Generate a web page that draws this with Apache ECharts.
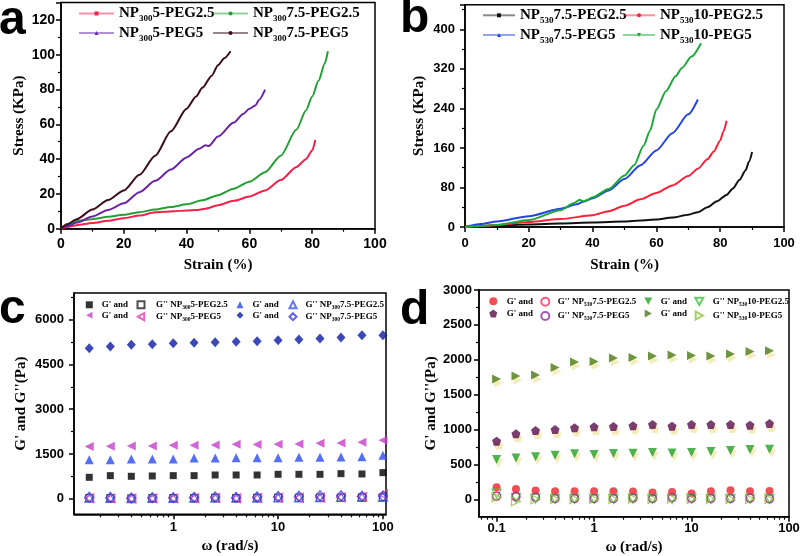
<!DOCTYPE html>
<html><head><meta charset="utf-8">
<script src="https://cdn.jsdelivr.net/npm/echarts@6/dist/echarts.min.js"></script>
<style>html,body{margin:0;padding:0;background:#fff}#c{width:801px;height:556px}</style>
</head><body><div id="c"></div>
<script>
const SANS = '"Liberation Sans", Arial, sans-serif';
const SERIF = '"Liberation Serif", "Times New Roman", serif';

// ---------- Panel a : stress-strain, NP300 ----------
const aStrainP5G25 = [0,2,5,10,15,20,25,30,33,36,40,43,46,50,55,60,65,70,75,78,80,81];
const aStressP5G25 = [0,1,2,3.3,4.5,6,7.6,9.4,9.8,10,10.5,10.7,11.5,13.5,16,18.5,22,28,35.5,40,45,51];
const aStrainP75G25 = [0,2,5,10,15,20,25,30,35,40,45,50,55,60,65,70,75,78,80,82,84,85];
const aStressP75G25 = [0,2.5,4.5,5.5,6.8,8,9.5,11,12.5,14,16.3,19.3,23,27,32.5,42,57,68,76,85,95,102];
const aStrainP5G5 = [0,2,5,10,15,20,25,30,35,40,44,46,47,50,55,58,60,62,63,65];
const aStressP5G5 = [0,1.5,3.5,7,10.8,14.6,21,27.5,34,41,46,48,47.5,53,61,66,69,71,74,80];
const aStrainP75G5 = [0,2,5,10,15,20,25,30,35,40,43,45,48,50,52,54];
const aStressP75G5 = [0,2.5,5.5,11,16.5,22,31,42,56,69,76,81,88,94,98,102];

// ---------- Panel b : stress-strain, NP530 ----------
const bStrainP75G25 = [0,5,10,20,30,40,50,55,60,65,70,73,76,79,82,84,86,88,89,90];
const bStressP75G25 = [0,2,3,5,7,9,11,13,15,19,25,30,40,52,65,78,95,115,132,152];
const bStrainP10G25 = [0,5,10,20,30,40,45,50,55,60,65,70,73,76,78,80,81,82];
const bStressP10G25 = [0,2,4,10,16,24,32,43,56,69,84,103,118,137,153,175,193,215];
const bStrainP75G5 = [0,5,10,20,30,35,37,40,45,50,55,60,65,70,73];
const bStressP75G5 = [0,6,11,22,37,46,51,58,74,97,125,155,190,228,258];
const bStrainP10G5 = [0,5,10,20,30,34,36,37,38,40,45,50,53,56,58,60,63,66,68,71,74];
const bStressP10G5 = [0,2,4,14,34,48,55,52,54,60,77,104,125,165,195,238,275,305,322,345,372];

// ---------- Panel c : G' / G'' vs omega, NP300 ----------
const cOmega = [0.158,0.251,0.398,0.631,1,1.58,2.51,3.98,6.31,10,15.8,25.1,39.8,63.1,100];
const cGpP5G25 = [716,772,750,761,772,772,794,794,794,817,817,817,839,828,873];
const cGppP5G25 = [20,15,10,15,15,20,25,20,25,30,30,35,35,40,45];
const cGpP75G25 = [1309,1309,1332,1332,1332,1365,1365,1376,1376,1376,1388,1388,1399,1410,1455];
const cGppP75G25 = [30,25,20,25,25,30,35,30,35,40,45,50,55,55,60];
const cGpP5G5 = [1746,1757,1768,1768,1790,1790,1802,1824,1813,1824,1835,1857,1869,1891,1958];
const cGppP5G5 = [15,10,5,10,10,15,20,15,20,30,30,40,50,60,140];
const cGpP75G5 = [5048,5104,5160,5182,5216,5227,5250,5261,5283,5317,5339,5373,5406,5485,5485];
const cGppP75G5 = [50,40,20,35,35,45,60,40,55,70,80,100,95,80,90];

// ---------- Panel d : G' / G'' vs omega, NP530 ----------
const dOmega = [0.1,0.158,0.251,0.398,0.631,1,1.58,2.51,3.98,6.31,10,15.8,25.1,39.8,63.1];
const dGpP75G25 = [172,148,124,115,115,115,115,110,96,105,81,115,129,115,120];
const dGppP75G25 = [40,30,25,10,10,10,10,15,10,20,10,10,10,15,10];
const dGpP10G25 = [569,593,608,632,651,641,656,660,670,665,670,684,699,713,718];
const dGppP10G25 = [80,20,10,5,5,5,5,5,5,0,5,5,5,5,5];
const dGpP75G5 = [833,938,986,1000,1024,1038,1043,1053,1072,1048,1072,1072,1072,1062,1086];
const dGppP75G5 = [50,45,30,10,10,10,10,20,10,25,15,10,10,15,5];
const dGpP10G5 = [1723,1766,1780,1890,1967,1976,2024,2034,2053,2067,2062,2053,2082,2120,2130];
const dGppP10G5 = [30,-30,0,5,5,5,5,10,5,10,5,5,5,5,5];

// tick values
const cYTicks = [0,1500,3000,4500,6000];
const cYMinor = [750,2250,3750,5250,6750];
const dYTicks = [0,500,1000,1500,2000,2500,3000];
const dYMinor = [250,750,1250,1750,2250,2750];
const cXMinor = [0.2,0.3,0.4,0.5,0.6,0.7,0.8,0.9,2,3,4,5,6,7,8,9,20,30,40,50,60,70,80,90];
const dXMinor = [0.07,0.08,0.09,0.2,0.3,0.4,0.5,0.6,0.7,0.8,0.9,2,3,4,5,6,7,8,9,20,30,40,50,60,70,80,90];

const zip = (xs, ys) => xs.map((x, i) => [x, ys[i]]);

const labelMap = {
  'a1': '{m|NP}{s|300}{m|5-PEG2.5}', 'a2': '{m|NP}{s|300}{m|7.5-PEG2.5}',
  'a3': '{m|NP}{s|300}{m|5-PEG5}', 'a4': '{m|NP}{s|300}{m|7.5-PEG5}',
  'b1': '{m|NP}{s|530}{m|7.5-PEG2.5}', 'b2': '{m|NP}{s|530}{m|10-PEG2.5}',
  'b3': '{m|NP}{s|530}{m|7.5-PEG5}', 'b4': '{m|NP}{s|530}{m|10-PEG5}',
  'c1': "{g| }{m|G' and}", 'c2': "{g| }{m|G'' NP}{s|300}{m|5-PEG2.5}",
  'c3': "{g| }{m|G' and}", 'c4': "{g| }{m|G'' NP}{s|300}{m|7.5-PEG2.5}",
  'c5': "{g| }{m|G' and}", 'c6': "{g| }{m|G'' NP}{s|300}{m|5-PEG5}",
  'c7': "{g| }{m|G' and}", 'c8': "{g| }{m|G'' NP}{s|300}{m|7.5-PEG5}",
  'd1': "{g| }{m|G' and}", 'd2': "{g| }{m|G'' NP}{s|530}{m|7.5-PEG2.5}",
  'd3': "{g| }{m|G' and}", 'd4': "{g| }{m|G'' NP}{s|530}{m|10-PEG2.5}",
  'd5': "{g| }{m|G' and}", 'd6': "{g| }{m|G'' NP}{s|530}{m|7.5-PEG5}",
  'd7': "{g| }{m|G' and}", 'd8': "{g| }{m|G'' NP}{s|530}{m|10-PEG5}"
};

const richBig = {
  m: {fontFamily: SERIF, fontWeight: 'bold', fontSize: 15, lineHeight: 20, color: '#000'},
  s: {fontFamily: SERIF, fontWeight: 'bold', fontSize: 9, lineHeight: 8, verticalAlign: 'bottom', color: '#000'}
};
function richSmall(gw) {
  return {
    g: {width: gw, fontSize: 9, lineHeight: 12},
    m: {fontFamily: SERIF, fontWeight: 'bold', fontSize: 9, lineHeight: 12, color: '#000'},
    s: {fontFamily: SERIF, fontWeight: 'bold', fontSize: 5.5, lineHeight: 5, verticalAlign: 'bottom', color: '#000'}
  };
}

function legend(names, left, top, iw, ih, gap, rich, lineLeg) {
  const o = {
    data: names, left: left, top: top, orient: 'vertical', padding: 0,
    itemWidth: iw, itemHeight: ih, itemGap: gap, selectedMode: false,
    formatter: n => labelMap[n], textStyle: {rich: rich}
  };
  if (lineLeg) o.lineStyle = {opacity: 0.5, width: 2};
  return o;
}

const plain = v => String(v);
const axLine = {show: true, onZero: false, lineStyle: {color: '#000', width: 1.5}};
const axTick = (len) => ({show: true, inside: false, length: len || 5, lineStyle: {color: '#000', width: 1.5}});
const minTick = {show: true, splitNumber: 2, length: 3, lineStyle: {color: '#000', width: 1.2}};
const lbl = (fs, margin, extra) => Object.assign({color: '#000', fontFamily: SANS, fontWeight: 'bold', fontSize: fs, margin: margin, formatter: plain}, extra || {});
const nameStyle = {fontFamily: SERIF, fontWeight: 'bold', fontSize: 15, color: '#000'};
const noSplit = {show: false};

function lineSeries(name, xs, ys, color, sym, xi) {
  return {
    type: 'line', name: name, data: zip(xs, ys), xAxisIndex: xi, yAxisIndex: xi,
    showSymbol: false, symbol: sym, symbolSize: 4, smooth: 0.25, smoothMonotone: 'x',
    lineStyle: {color: color, width: 2}, itemStyle: {color: color}, animation: false
  };
}
function scat(name, xs, ys, color, sym, size, open, ai, halo) {
  const s = {
    type: 'scatter', name: name, data: zip(xs, ys), xAxisIndex: ai, yAxisIndex: ai,
    symbol: sym, symbolSize: size, animation: false,
    itemStyle: open ? {color: 'rgba(255,255,255,0)', borderColor: color, borderWidth: 1.2}
                    : {color: color}
  };
  if (halo) Object.assign(s.itemStyle, {shadowColor: 'rgba(238,228,160,0.9)', shadowBlur: 1, shadowOffsetX: 2, shadowOffsetY: 4});
  return s;
}

const LTRI = 'path://M0,5L9,0L9,10Z';
const RTRI = 'path://M0,0L9,5L0,10Z';
const DTRI = 'path://M0,0L10,0L5,9Z';
const PENT = 'path://M5,0L10,3.8L8.1,10L1.9,10L0,3.8Z';

const option = {
  animation: false,
  backgroundColor: '#fff',
  grid: [
    {left: 61, top: 2.6, width: 314, height: 226.1, show: true, borderColor: '#000', borderWidth: 1.5, outerBoundsMode: 'none'},
    {left: 465, top: 4.7, width: 319, height: 222.3, show: true, borderColor: '#000', borderWidth: 1.5, outerBoundsMode: 'none'},
    {left: 74, top: 293, width: 312, height: 221.3, show: true, borderColor: '#000', borderWidth: 1.5, outerBoundsMode: 'none'},
    {left: 479, top: 290, width: 310, height: 226.7, show: true, borderColor: '#000', borderWidth: 1.5, outerBoundsMode: 'none'}
  ],
  xAxis: [
    {gridIndex: 0, type: 'value', min: 0, max: 100, interval: 20, position: 'bottom',
     axisLine: axLine, axisTick: axTick(5), minorTick: minTick, splitLine: noSplit, minorSplitLine: noSplit,
     axisLabel: lbl(14, 8), name: 'Strain (%)', nameLocation: 'middle', nameGap: 29, nameTextStyle: nameStyle},
    {gridIndex: 1, type: 'value', min: 0, max: 100, interval: 20, position: 'bottom',
     axisLine: axLine, axisTick: axTick(5), minorTick: minTick, splitLine: noSplit,
     axisLabel: lbl(13, 10), name: 'Strain (%)', nameLocation: 'middle', nameGap: 31, nameTextStyle: nameStyle},
    {gridIndex: 2, type: 'log', logBase: 10, min: 0.113, max: 107, position: 'bottom',
     axisLine: axLine, axisTick: axTick(5), splitLine: noSplit,
     axisLabel: lbl(13, 7, {showMinLabel: false, showMaxLabel: false}),
     name: 'ω (rad/s)', nameLocation: 'middle', nameGap: 24, nameTextStyle: nameStyle},
    {gridIndex: 2, type: 'value', min: Math.log10(0.113), max: Math.log10(107), position: 'bottom',
     axisLine: {show: false, onZero: false}, axisLabel: {show: false}, splitLine: noSplit,
     axisTick: {show: true, length: 3, customValues: cXMinor.map(v => Math.log10(v)), lineStyle: {color: '#000', width: 1.2}}},
    {gridIndex: 3, type: 'log', logBase: 10, min: 0.066, max: 100, position: 'bottom',
     axisLine: axLine, axisTick: axTick(5), splitLine: noSplit,
     axisLabel: lbl(13, 5, {showMinLabel: false}),
     name: 'ω (rad/s)', nameLocation: 'middle', nameGap: 23, nameTextStyle: nameStyle},
    {gridIndex: 3, type: 'value', min: Math.log10(0.066), max: 2, position: 'bottom',
     axisLine: {show: false, onZero: false}, axisLabel: {show: false}, splitLine: noSplit,
     axisTick: {show: true, length: 3, customValues: dXMinor.map(v => Math.log10(v)), lineStyle: {color: '#000', width: 1.2}}}
  ],
  yAxis: [
    {gridIndex: 0, type: 'value', min: 0, max: 130, interval: 20, position: 'left',
     axisLine: axLine, axisTick: axTick(5), minorTick: minTick, splitLine: noSplit,
     axisLabel: lbl(14, 6, {showMaxLabel: false}), name: 'Stress (KPa)', nameLocation: 'middle', nameGap: 34, nameTextStyle: nameStyle},
    {gridIndex: 1, type: 'value', min: 0, max: 450, interval: 80, position: 'left',
     axisLine: axLine, axisTick: axTick(5), minorTick: minTick, splitLine: noSplit,
     axisLabel: lbl(13, 10, {showMaxLabel: false}), name: 'Stress (KPa)', nameLocation: 'middle', nameGap: 38, nameTextStyle: nameStyle},
    {gridIndex: 2, type: 'value', min: -525, max: 6900, position: 'left',
     axisLine: axLine, axisTick: Object.assign(axTick(5), {customValues: cYTicks}), splitLine: noSplit,
     axisLabel: lbl(13, 10, {customValues: cYTicks}), name: "G' and G''(Pa)", nameLocation: 'middle', nameGap: 45, nameTextStyle: nameStyle},
    {gridIndex: 2, type: 'value', min: -525, max: 6900, position: 'left',
     axisLine: {show: false, onZero: false}, axisLabel: {show: false}, splitLine: noSplit,
     axisTick: {show: true, length: 3, customValues: cYMinor, lineStyle: {color: '#000', width: 1.2}}},
    {gridIndex: 3, type: 'value', min: -250, max: 3000, position: 'left',
     axisLine: axLine, axisTick: Object.assign(axTick(5), {customValues: dYTicks}), splitLine: noSplit,
     axisLabel: lbl(13, 7, {customValues: dYTicks}), name: "G' and G''(Pa)", nameLocation: 'middle', nameGap: 40, nameTextStyle: nameStyle},
    {gridIndex: 3, type: 'value', min: -250, max: 3000, position: 'left',
     axisLine: {show: false, onZero: false}, axisLabel: {show: false}, splitLine: noSplit,
     axisTick: {show: true, length: 3, customValues: dYMinor, lineStyle: {color: '#000', width: 1.2}}}
  ],
  legend: [
    legend(['a1', 'a3'], 78, 6, 35, 5, 2, richBig, true),
    legend(['a2', 'a4'], 212, 6, 35, 5, 2, richBig, true),
    legend(['b1', 'b3'], 482, 7.8, 32, 5, 2.2, richBig, true),
    legend(['b2', 'b4'], 622, 7.8, 32, 5, 2.2, richBig, true),
    legend(['c1', 'c5'], 85.8, 300.3, 7, 7, 1.4, richSmall(4)),
    legend(['c2', 'c6'], 136.5, 300.3, 7, 7, 1.4, richSmall(6.5)),
    legend(['c3', 'c7'], 236.5, 300.3, 7, 7, 1.4, richSmall(4)),
    legend(['c4', 'c8'], 288.5, 300.3, 7, 7, 1.4, richSmall(4)),
    legend(['d1', 'd5'], 489.3, 296.7, 8, 8, 3.3, richSmall(4.4)),
    legend(['d2', 'd6'], 540.3, 296.7, 8, 8, 3.3, richSmall(3.4)),
    legend(['d3', 'd7'], 644.3, 296.7, 8, 8, 3.3, richSmall(3.4)),
    legend(['d4', 'd8'], 694.3, 296.7, 8, 8, 3.3, richSmall(4.4))
  ],
  graphic: [
    {type: 'text', x: -1, y: 20.5, style: {text: 'a', font: 'bold 48px ' + SANS, fill: '#000', verticalAlign: 'middle'}},
    {type: 'text', x: 400, y: 18.3, style: {text: 'b', font: 'bold 48px ' + SANS, fill: '#000', verticalAlign: 'middle'}},
    {type: 'text', x: -1, y: 310, style: {text: 'c', font: 'bold 48px ' + SANS, fill: '#000', verticalAlign: 'middle'}},
    {type: 'text', x: 400, y: 310.3, style: {text: 'd', font: 'bold 48px ' + SANS, fill: '#000', verticalAlign: 'middle'}}
  ],
  series: [
    lineSeries('a1', aStrainP5G25, aStressP5G25, '#f2204a', 'rect', 0),
    lineSeries('a2', aStrainP75G25, aStressP75G25, '#23a035', 'circle', 0),
    lineSeries('a3', aStrainP5G5, aStressP5G5, '#6a24a6', 'triangle', 0),
    lineSeries('a4', aStrainP75G5, aStressP75G5, '#3a0a1e', 'circle', 0),
    lineSeries('b1', bStrainP75G25, bStressP75G25, '#111111', 'rect', 1),
    lineSeries('b2', bStrainP10G25, bStressP10G25, '#fa2238', 'circle', 1),
    lineSeries('b3', bStrainP75G5, bStressP75G5, '#2446e0', 'triangle', 1),
    lineSeries('b4', bStrainP10G5, bStressP10G5, '#1fa83a', DTRI, 1),

    scat('c1', cOmega, cGpP5G25, '#000000', 'rect', 7, false, 2),
    scat('c2', cOmega, cGppP5G25, '#222222', 'rect', 7, true, 2),
    scat('c3', cOmega, cGpP75G25, '#2a4bf0', 'triangle', 9, false, 2),
    scat('c4', cOmega, cGppP75G25, '#3a5af0', 'triangle', 9, true, 2),
    scat('c5', cOmega, cGpP5G5, '#c43fc8', LTRI, 9, false, 2),
    scat('c6', cOmega, cGppP5G5, '#e040b0', LTRI, 9, true, 2),
    scat('c7', cOmega, cGpP75G5, '#0b1aa6', 'diamond', [9, 10], false, 2),
    scat('c8', cOmega, cGppP75G5, '#3a3ae0', 'diamond', [9, 10], true, 2),

    scat('d1', dOmega, dGpP75G25, '#f0202c', 'circle', 8, false, 4),
    scat('d2', dOmega, dGppP75G25, '#ff3060', 'circle', 8, true, 4),
    scat('d3', dOmega, dGpP10G25, '#22a024', DTRI, 9, false, 4, true),
    scat('d4', dOmega, dGppP10G25, '#40c040', DTRI, 9, true, 4),
    scat('d5', dOmega, dGpP75G5, '#5a0e4e', PENT, 9, false, 4, true),
    scat('d6', dOmega, dGppP75G5, '#8a30a0', 'circle', 8, true, 4),
    scat('d7', dOmega, dGpP10G5, '#4a7a12', RTRI, 9, false, 4, true),
    scat('d8', dOmega, dGppP10G5, '#90c040', RTRI, 9, true, 4)
  ]
};

const chart = echarts.init(document.getElementById('c'), null, {renderer: 'canvas'});
chart.setOption(option);
</script></body></html>
